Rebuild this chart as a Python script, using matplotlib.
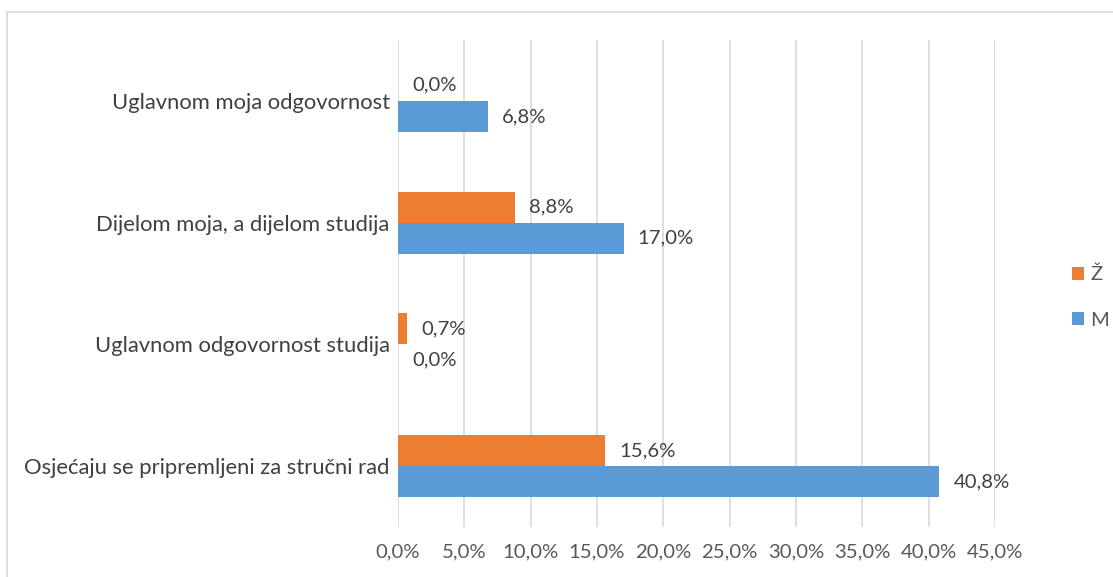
import matplotlib.pyplot as plt
from matplotlib.patches import Rectangle
import numpy as np

plt.rcParams['font.family'] = ['Lato', 'DejaVu Sans']

# data (bottom to top)
categories = ['Osjećaju se pripremljeni za stručni rad',
              'Uglavnom odgovornost studija',
              'Dijelom moja, a dijelom studija',
              'Uglavnom moja odgovornost']
zenski = [15.6, 0.7, 8.8, 0.0]
muski = [40.8, 0.0, 17.0, 6.8]
ticks = [0, 5, 10, 15, 20, 25, 30, 35, 40, 45]

orange = '#ED7D31'
blue = '#5B9BD5'
txt = '#404040'

fig = plt.figure(figsize=(11.13, 5.77), dpi=100)
ax = fig.add_axes([0.3576, 0.0867, 0.894 - 0.3576, 0.9307 - 0.0867])

y = np.arange(len(categories))
h = 0.255
b1 = ax.barh(y + h / 2, zenski, height=h, color=orange, label='Ž')
b2 = ax.barh(y - h / 2, muski, height=h, color=blue, label='M')

for bars, vals in ((b1, zenski), (b2, muski)):
    for bar, v in zip(bars, vals):
        ax.annotate(f'{v:.1f}%'.replace('.', ','),
                    (v, bar.get_y() + bar.get_height() / 2),
                    xytext=(14, 0), textcoords='offset pixels',
                    va='center', ha='left', fontsize=14.6, color=txt)

ax.set_xlim(0, 45)
ax.set_ylim(-0.5, 3.5)
ax.set_xticks(ticks)
ax.set_xticklabels([f'{t:.1f}%'.replace('.', ',') for t in ticks], fontsize=14.6, color='#595959')
ax.set_yticks(y)
ax.set_yticklabels(categories, fontsize=15.8, color=txt)
ax.tick_params(length=0, pad=12, axis='x')
ax.tick_params(length=0, pad=6, axis='y')
ax.grid(axis='x', color='#D9D9D9', linewidth=1.2)
ax.set_axisbelow(True)
for s in ax.spines.values():
    s.set_visible(False)

leg = fig.legend(handles=[b1, b2], loc='center left', bbox_to_anchor=(0.947, 0.485),
                 frameon=False, fontsize=14.6, handlelength=0.6, handleheight=0.6,
                 handletextpad=0.3, labelspacing=1.4, labelcolor='#595959')

# outer chart border
fig.patches.append(Rectangle((7 / 1113, -0.1), 1.1, 1 - 12 / 577 + 0.1,
                             transform=fig.transFigure, fill=False,
                             edgecolor='#D9D9D9', linewidth=1.2))

fig.savefig('out.png', dpi=100)
